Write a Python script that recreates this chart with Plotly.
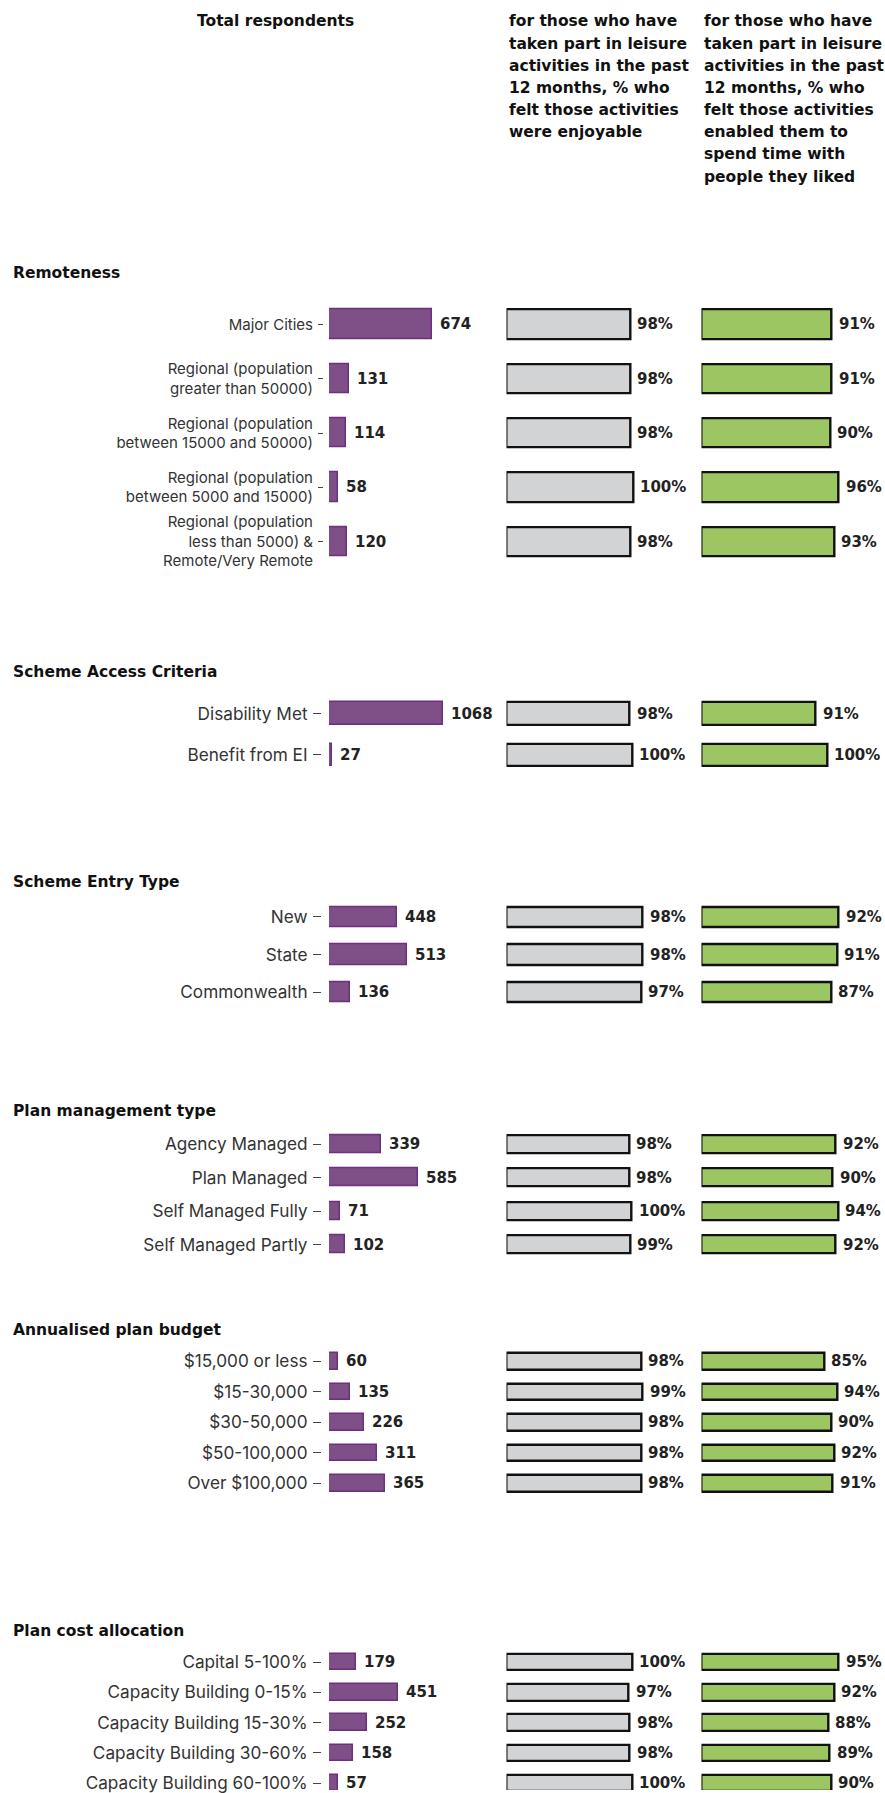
import plotly.graph_objects as go

W, H = 885, 1793

# ---------------- data ----------------
header_total = "Total respondents"
header_enjoy = ["for those who have", "taken part in leisure", "activities in the past",
                "12 months, % who", "felt those activities", "were enjoyable"]
header_people = ["for those who have", "taken part in leisure", "activities in the past",
                 "12 months, % who", "felt those activities", "enabled them to",
                 "spend time with", "people they liked"]

section_titles = ["Remoteness", "Scheme Access Criteria", "Scheme Entry Type",
                  "Plan management type", "Annualised plan budget", "Plan cost allocation"]

remote_labels = ["Major Cities", "Regional (population<br>greater than 50000)",
                 "Regional (population<br>between 15000 and 50000)",
                 "Regional (population<br>between 5000 and 15000)",
                 "Regional (population<br>less than 5000) &<br>Remote/Very Remote"]
remote_total = [674, 131, 114, 58, 120]
remote_enjoy = [98, 98, 98, 100, 98]
remote_people = [91, 91, 90, 96, 93]

access_labels = ["Disability Met", "Benefit from EI"]
access_total = [1068, 27]
access_enjoy = [98, 100]
access_people = [91, 100]

entry_labels = ["New", "State", "Commonwealth"]
entry_total = [448, 513, 136]
entry_enjoy = [98, 98, 97]
entry_people = [92, 91, 87]

plan_labels = ["Agency Managed", "Plan Managed", "Self Managed Fully", "Self Managed Partly"]
plan_total = [339, 585, 71, 102]
plan_enjoy = [98, 98, 100, 99]
plan_people = [92, 90, 94, 92]

budget_labels = ["$15,000 or less", "$15-30,000", "$30-50,000", "$50-100,000", "Over $100,000"]
budget_total = [60, 135, 226, 311, 365]
budget_enjoy = [98, 99, 98, 98, 98]
budget_people = [85, 94, 90, 92, 91]

cost_labels = ["Capital 5-100%", "Capacity Building 0-15%", "Capacity Building 15-30%",
               "Capacity Building 30-60%", "Capacity Building 60-100%"]
cost_total = [179, 451, 252, 158, 57]
cost_enjoy = [100, 97, 98, 98, 100]
cost_people = [95, 92, 88, 89, 90]

sections = [
    (remote_labels, remote_total, remote_enjoy, remote_people),
    (access_labels, access_total, access_enjoy, access_people),
    (entry_labels, entry_total, entry_enjoy, entry_people),
    (plan_labels, plan_total, plan_enjoy, plan_people),
    (budget_labels, budget_total, budget_enjoy, budget_people),
    (cost_labels, cost_total, cost_enjoy, cost_people),
]

# ---------------- layout settings (pixels) ----------------
header_y = [273.5, 673.5, 883.5, 1113, 1332.5, 1634]
row0_y = [325, 714.8, 918.5, 1146, 1363.5, 1665]
row_gap = [54.4, 41.2, 37.65, 33.53, 30.6, 30.3]
tick_size = [15, 17.2, 17.2, 17.2, 17.2, 17.2]
# pixels per data unit for each column, per section
total_scale = [0.1534, 0.107, 0.152, 0.152, 0.153, 0.152]
enjoy_scale = [1.265, 1.257, 1.39, 1.25, 1.377, 1.258]
people_scale = [1.43, 1.257, 1.49, 1.457, 1.444, 1.443]

col_dom = [(329, 500), (506.5, 690), (701.5, 885)]
bar_width = 0.54

FONT = "Inter, Roboto, Liberation Sans, sans-serif"
BFONT = "DejaVu Sans, Verdana, sans-serif"
fills = ["#7f4f87", "#d2d3d5", "#9bc662"]
edges = ["#6e2f7e", "#111111", "#111111"]
edge_w = [1.5, 2.4, 2.4]


def px_x(p):
    return p / W


def px_y(p):
    return 1 - p / H


fig = go.Figure()
layout = {}
annotations = []
ax = 0
for s, (labels, tot, enj, ppl) in enumerate(sections):
    n = len(labels)
    c0, g = row0_y[s], row_gap[s]
    top_px = c0 - g / 2
    bot_px = min(c0 + (n - 1) * g + g / 2, H)
    bot_data = (bot_px - c0) / g
    ydom = [px_y(bot_px), px_y(top_px)]
    scales = [total_scale[s], enjoy_scale[s], people_scale[s]]
    vals_list = [tot, enj, ppl]
    for c in range(3):
        ax += 1
        xname = "xaxis" if ax == 1 else f"xaxis{ax}"
        yname = "yaxis" if ax == 1 else f"yaxis{ax}"
        xref = "x" if ax == 1 else f"x{ax}"
        yref = "y" if ax == 1 else f"y{ax}"
        d0, d1 = col_dom[c]
        rng_max = (d1 - d0) / scales[c]
        vals = vals_list[c]
        fig.add_trace(go.Bar(
            x=vals, y=list(range(n)), orientation="h", width=bar_width,
            marker=dict(color=fills[c], line=dict(color=edges[c], width=edge_w[c])),
            xaxis=xref, yaxis=yref, showlegend=False, hoverinfo="skip",
        ))
        for i, v in enumerate(vals):
            annotations.append(dict(
                text=(str(v) if c == 0 else f"{v}%"), x=v, y=i, xref=xref, yref=yref,
                xanchor="left", yanchor="middle", xshift=6 if c == 0 else 5, showarrow=False,
                font=dict(family=BFONT, size=15, color="#222222", weight="bold")))
        layout[xname] = dict(domain=[px_x(d0), px_x(d1)], range=[0, rng_max],
                             visible=False, anchor=yref, fixedrange=True)
        ya = dict(domain=ydom, range=[bot_data, -0.5], showgrid=False,
                  zeroline=False, showline=False, fixedrange=True)
        if c == 0:
            tl = 5 if s == 0 else 8
            ya.update(anchor="free", position=px_x(323 if s == 0 else 321),
                      tickmode="array", tickvals=list(range(n)), ticktext=labels,
                      ticks="outside", ticklen=tl, tickwidth=1.4, tickcolor="#444444",
                      tickfont=dict(family=FONT, size=tick_size[s], color="#333333"),
                      ticklabelstandoff=2, ticklabeloverflow="allow")
        else:
            ya.update(anchor=xref, showticklabels=False, ticks="")
        layout[yname] = ya

hfont = dict(family=BFONT, size=15.5, color="#111111", weight="bold")
annotations.append(dict(text=header_total, x=px_x(275), y=px_y(21), xref="paper", yref="paper",
                        xanchor="center", yanchor="middle", showarrow=False, font=hfont))
for lines, xp in ((header_enjoy, 506.5), (header_people, 701.5)):
    for k, line in enumerate(lines):
        annotations.append(dict(text=line, x=px_x(xp), y=px_y(21.5 + 22.2 * k),
                                xref="paper", yref="paper", xanchor="left", yanchor="middle",
                                align="left", showarrow=False, font=hfont))
for s, t in enumerate(section_titles):
    annotations.append(dict(text=t, x=px_x(11), y=px_y(header_y[s]), xref="paper", yref="paper",
                            xanchor="left", yanchor="middle", showarrow=False, font=hfont))

fig.update_layout(
    width=W, height=H, margin=dict(l=0, r=0, t=0, b=0),
    paper_bgcolor="white", plot_bgcolor="white",
    annotations=annotations, bargap=0, **layout,
)

fig.write_html("out.html", config={"displayModeBar": False},
               post_script="document.body.style.margin='0px';")
